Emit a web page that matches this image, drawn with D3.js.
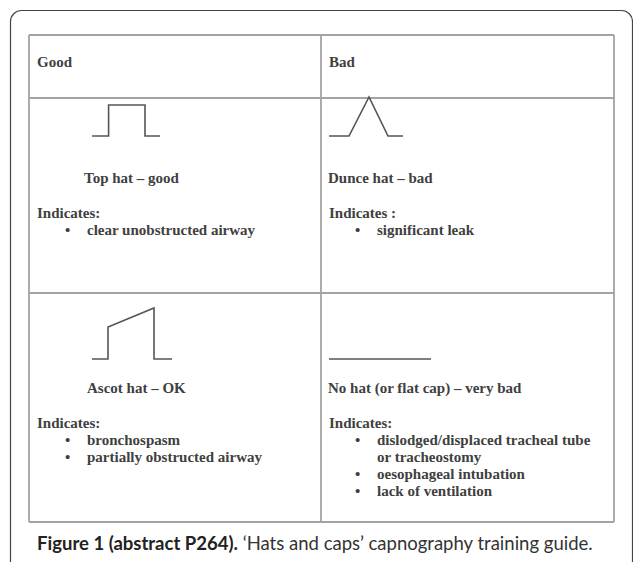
<!DOCTYPE html>
<html><head><meta charset="utf-8">
<script src="https://cdn.jsdelivr.net/npm/d3@7"></script>
<style>body{margin:0;background:#fff;}svg{display:block;}</style>
</head><body>
<svg id="chart" width="633" height="562"></svg>
<script>
// ---- data ----
const columns = ["Good", "Bad"];
const hatNames = ["Top hat \u2013 good", "Dunce hat \u2013 bad", "Ascot hat \u2013 OK", "No hat (or flat cap) \u2013 very bad"];
const indicatesLabels = ["Indicates:", "Indicates :", "Indicates:", "Indicates:"];
const indications = [
  [["clear unobstructed airway"]],
  [["significant leak"]],
  [["bronchospasm"], ["partially obstructed airway"]],
  [["dislodged/displaced tracheal tube", "or tracheostomy"], ["oesophageal intubation"], ["lack of ventilation"]]
];
// waveform shapes: time (s) and CO2 (arbitrary units)
const topHatT = [0, 0.83, 0.83, 2.65, 2.65, 3.4];
const topHatCO2 = [0, 0, 3.1, 3.1, 0, 0];
const dunceT = [0, 1.0, 2.0, 2.95, 3.7];
const dunceCO2 = [0, 0, 3.9, 0, 0];
const ascotT = [0, 0.8, 0.8, 3.1, 3.1, 4.0];
const ascotCO2 = [0, 0, 3.2, 5.1, 0, 0];
const flatT = [0, 5.1];
const flatCO2 = [0, 0];
const waves = [[topHatT, topHatCO2], [dunceT, dunceCO2], [ascotT, ascotCO2], [flatT, flatCO2]];
const caption = ["Figure 1 (abstract P264).", " \u2018Hats and caps\u2019 capnography training guide."];

// ---- layout ----
const svg = d3.select("#chart");
const colX = [29, 321, 614];
const rowY = [35, 98, 293, 522];
const textColor = "#404040";
const serif = "'Liberation Serif', 'DejaVu Serif', serif";

// outer frame
svg.append("rect").attr("x", 10.5).attr("y", 10.5).attr("width", 622).attr("height", 620)
  .attr("rx", 11).attr("fill", "none").attr("stroke", "#444").attr("stroke-width", 1.2);

// table grid
const grid = svg.append("g").attr("stroke", "#a3a3a3").attr("stroke-width", 1.8);
rowY.forEach(y => grid.append("line").attr("x1", colX[0]).attr("x2", colX[2]).attr("y1", y).attr("y2", y));
colX.forEach(x => grid.append("line").attr("x1", x).attr("x2", x).attr("y1", rowY[0]).attr("y2", rowY[3]));

const fontSize = 15;
// headers
columns.forEach((c, i) => {
  svg.append("text").attr("x", colX[i] + 8).attr("y", 67).text(c)
    .attr("font-family", serif).attr("font-weight", "bold").attr("font-size", fontSize).attr("fill", textColor);
});

const x = d3.scaleLinear().domain([0, 1]).range([0, 20]);
const y = d3.scaleLinear().domain([0, 1]).range([0, -10]);
const line = d3.line().x(d => x(d[0])).y(d => y(d[1]));

const waveDx = [63, 8];
const waveBaseline = [38, 66];
const labelDx = [[55, 7], [58, 7]];
const labelDy = [85, 100];
const indDy = [120, 135];
const bulletDx = [36, 34];
const itemDx = [58, 56];
const step = 17;

hatNames.forEach((name, i) => {
  const col = i % 2, row = Math.floor(i / 2);
  const cx = colX[col], cy = rowY[row + 1];
  const g = svg.append("g");
  const pts = waves[i][0].map((t, k) => [t, waves[i][1][k]]);
  g.append("path").attr("d", line(pts))
    .attr("transform", `translate(${cx + waveDx[col]},${cy + waveBaseline[row]})`)
    .attr("fill", "none").attr("stroke", "#555").attr("stroke-width", 1.6).attr("stroke-linejoin", "miter");
  const txt = (tx, ty, s) => g.append("text").attr("x", tx).attr("y", ty).text(s)
    .attr("font-family", serif).attr("font-weight", "bold").attr("font-size", fontSize).attr("fill", textColor);
  txt(cx + labelDx[row][col], cy + labelDy[row], name);
  txt(cx + 8, cy + indDy[row], indicatesLabels[i]);
  let ly = cy + indDy[row] + step;
  indications[i].forEach(item => {
    txt(cx + bulletDx[col], ly, "\u2022");
    item.forEach(l => { txt(cx + itemDx[col], ly, l); ly += step; });
  });
});

// caption
const cap = svg.append("text").attr("x", 37).attr("y", 550)
  .attr("font-family", "Lato, 'Open Sans', sans-serif").attr("font-size", 15).attr("fill", "#222");
cap.append("tspan").attr("font-weight", "bold").text(caption[0]);
cap.append("tspan").attr("fill", "#333").text(caption[1]);
const w = cap.node().getComputedTextLength();
cap.attr("font-size", 15 * 556 / w);
</script>
</body></html>
